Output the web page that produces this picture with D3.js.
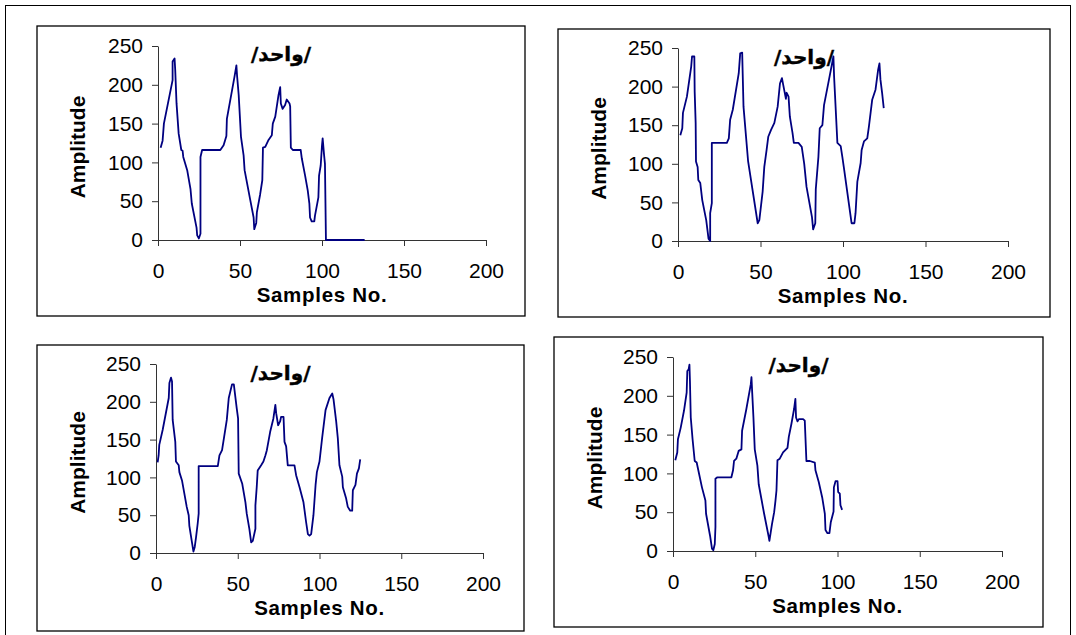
<!DOCTYPE html>
<html><head><meta charset="utf-8">
<script src="https://cdn.jsdelivr.net/npm/d3@7"></script>
<style>body{margin:0;background:#fff} svg{display:block}</style>
</head><body>
<svg id="c" width="1076" height="635"></svg>
<script>
// ---- data ----
const xTicks = [0, 50, 100, 150, 200];
const yTicks = [0, 50, 100, 150, 200, 250];
const titleText = "/واحد/";
const xLabel = "Samples No.";
const yLabel = "Amplitude";

const x1 = [1.6,2.8,3.6,8.9,8.9,10.1,10.5,11.3,12.6,14.2,15.0,15.4,17.8,19.8,20.6,23.5,23.9,24.9,25.9,25.9,26.9,38,40,41.7,42,46.6,47.8,48.2,49.2,50.6,52.2,52.8,56.3,58.3,58.7,59.9,60.3,62.3,63.6,64,65.4,67.4,69.4,70,71.5,73.5,74.5,74.9,76,77.5,78.5,80.2,80.6,81,82.2,87,87.7,89.7,91.3,92.3,92.7,93.7,95.3,95.7,97.8,98.2,99.2,100,100.4,101.2,101.8,102.4,126];
const y1 = [119,128,150,206,230,234,219,176,137,116,115,107,90,66,47,16,6,2,8,107,116,116,122,134,156,210,225,212,187,133,109,90,51,29,14,22,36,59,77,119,120,129,135,150,159,187,197,176,169,174,181,176,172,119,116,116,105,83,64,47,29,24,24,31,55,83,96,122,131,111,98,0,0];

const x2 = [1.4,2.6,3,5.4,8,8.5,9.9,10.1,10.7,10.9,11.9,12.3,13.5,14.7,17.1,18.5,19.5,19.5,20.5,20.5,29.6,30.8,31.6,33.2,36.8,37.7,38.9,39.1,39.7,42.5,48.3,49.3,51.3,52.3,53.7,54.7,56.4,58.4,60.4,61.8,63,63.8,65.4,65.8,67,67.8,69.4,70.2,73,75,76.5,77.9,81.2,81.9,83.2,83.5,85.1,85.9,87.5,88.5,91.5,94.2,94.6,96.6,98.6,99.6,100.6,105.2,106.9,107.6,108.7,110.7,111.3,112.7,114.7,115.7,117.7,119.7,121.3,122.1,122.7,123.7,124.7];
const y2 = [137,146,166,187,226,239,239,194,153,103,96,79,75,53,27,3,0,36,49,127,127,133,157,170,217,243,244,226,174,103,23,27,64,96,118,135,144,153,174,204,211,202,184,192,187,161,140,127,127,122,100,70,31,15,23,67,109,146,150,176,209,239,213,127,123,109,94,23,23,36,77,101,118,129,133,148,183,196,222,230,209,192,172];

const x3 = [1,1.6,2,4.1,7.8,8.2,9.2,9.8,10.2,11.8,12.2,13.9,14.3,15.9,18.8,20,20.4,22,22.9,23.7,24.5,25.5,26.1,26.1,37.8,38.8,40.4,43.3,44.5,46.5,47.6,49.4,50.2,50.6,52.7,54.7,55.5,57.1,58.2,59.2,60.8,60.8,61.6,62.2,64.3,65.7,66.9,67.8,69.8,71.8,73,73.5,74.7,75.9,76.5,78,78.6,79.6,80.6,84.7,85.7,87.8,90.2,91.8,92.9,93.9,94.9,96.3,97.6,98.4,100,101.6,103.7,106.1,107.8,108.6,110.2,111.2,112.2,113.9,114.3,116.3,117.3,118.8,120,120.4,122,122.9,124.1,124.9];
const y3 = [120,129,143,163,205,225,232,227,176,147,121,116,107,96,61,50,36,14,2,8,21,39,52,115,115,129,136,176,205,223,223,191,178,105,92,67,52,32,14,16,32,63,87,109,116,121,129,136,160,178,196,185,169,174,180,180,147,141,116,116,103,87,67,41,25,23,25,50,90,107,121,152,189,205,211,203,174,152,116,101,87,72,61,56,56,83,90,105,112,124];

const x4 = [1.4,2.6,3,4.7,6.7,8.3,8.7,9.5,10,10.3,10.8,11.9,13.2,14.4,15.2,17.6,19.7,20.1,22.5,23.7,24.5,25.4,25.8,25.8,27,35.5,36.5,37.1,38.5,39.9,41.6,42,44.6,46.7,47.3,47.7,48.1,48.9,49.7,51.3,52.1,55.4,58.2,58.6,59.4,60.2,61.5,62.3,62.9,63.5,64.9,66.9,69.6,70.4,72,73.6,74.4,74.8,75.7,76.5,79.1,80.1,81.1,83.2,86.2,86.6,88.6,90.7,92.3,92.7,93.9,95.1,95.9,97.6,97.8,98.8,100,100.4,101.4,101.8,102.8];
const y4 = [117,127,144,159,181,204,232,234,240,219,172,144,116,114,106,82,65,48,20,3,1,9,31,93,95,95,104,116,119,129,131,155,183,208,215,224,206,172,131,110,86,48,18,13,24,35,50,65,78,117,119,127,133,147,164,183,196,172,167,170,170,168,116,116,114,104,89,69,48,27,23,23,37,51,82,90,90,76,74,59,53];

// ---- layout ----
const panels = [
  {xs: x1, ys: y1, box: [37, 26, 525, 316], px: [158, 486], py: [240, 46]},
  {xs: x2, ys: y2, box: [558, 29, 1050, 317], px: [678, 1008], py: [241, 48]},
  {xs: x3, ys: y3, box: [37, 345, 524, 631], px: [156, 483], py: [553, 364]},
  {xs: x4, ys: y4, box: [554, 337, 1043, 627], px: [673, 1002], py: [551, 357]}
];

const svg = d3.select("#c");
const FONT = "'Liberation Sans', Arial, Helvetica, sans-serif";

// outer frame
svg.append("rect").attr("x", 5.5).attr("y", 5.5).attr("width", 1065).attr("height", 640)
  .attr("fill", "none").attr("stroke", "#000").attr("stroke-width", 1);

panels.forEach(p => {
  const g = svg.append("g");
  const [bx0, by0, bx1, by1] = p.box;
  g.append("rect").attr("x", bx0).attr("y", by0).attr("width", bx1 - bx0).attr("height", by1 - by0)
    .attr("fill", "#fff").attr("stroke", "#000").attr("stroke-width", 1.3);

  const x = d3.scaleLinear().domain([0, 200]).range(p.px);
  const y = d3.scaleLinear().domain([0, 250]).range(p.py);

  const xa = g.append("g").attr("transform", `translate(0,${p.py[0]})`)
    .call(d3.axisBottom(x).tickValues(xTicks).tickSize(6).tickSizeOuter(0).tickPadding(17));
  const ya = g.append("g").attr("transform", `translate(${p.px[0]},0)`)
    .call(d3.axisLeft(y).tickValues(yTicks).tickSize(6).tickSizeOuter(0).tickPadding(9));
  [xa, ya].forEach(a => {
    a.selectAll("path,line").attr("stroke", "#333").attr("stroke-width", 1);
    a.selectAll("text").attr("font-family", FONT).attr("font-size", 21).attr("fill", "#000");
  });

  const line = d3.line().x((d, i) => x(p.xs[i])).y(d => y(d));
  g.append("path").datum(p.ys).attr("d", line)
    .attr("fill", "none").attr("stroke", "#000080").attr("stroke-width", 1.8)
    .attr("stroke-linejoin", "round");

  const cx = (p.px[0] + p.px[1]) / 2;
  g.append("text").attr("x", cx).attr("y", p.py[0] + 61.5)
    .attr("text-anchor", "middle").attr("font-family", FONT).attr("font-weight", "bold")
    .attr("font-size", 20.5).attr("letter-spacing", 0.7).text(xLabel);

  const cy = (p.py[0] + p.py[1]) / 2 + 4;
  g.append("text").attr("transform", `translate(${bx0 + 48},${cy}) rotate(-90)`)
    .attr("text-anchor", "middle").attr("font-family", FONT).attr("font-weight", "bold")
    .attr("font-size", 21).text(yLabel);

  g.append("text").attr("x", (bx0 + bx1) / 2).attr("y", by0 + 35)
    .attr("text-anchor", "middle").attr("font-family", "'DejaVu Sans', sans-serif")
    .attr("font-weight", "bold").attr("font-size", 20)
    .attr("stroke", "#000").attr("stroke-width", 0.4).text(titleText);
});
</script>
</body></html>
